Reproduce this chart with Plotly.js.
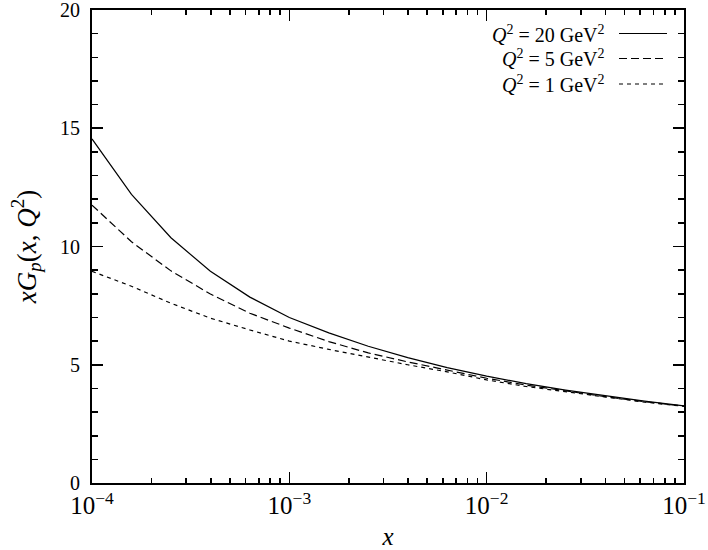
<!DOCTYPE html>
<html>
<head>
<meta charset="utf-8">
<script src="https://cdn.plot.ly/plotly-3.0.1.min.js"></script>
<style>html,body{margin:0;padding:0;background:#fff;}#chart{width:708px;height:550px;}</style>
</head>
<body>
<div id="chart"></div>
<script>
// x values (log-spaced sample points)
const xVals = [1.0e-4, 1.585e-4, 2.512e-4, 3.981e-4, 6.310e-4,
               1.0e-3, 1.585e-3, 2.512e-3, 3.981e-3, 6.310e-3,
               1.0e-2, 1.585e-2, 2.512e-2, 3.981e-2, 6.310e-2, 1.0e-1];
const gQ20 = [14.55, 12.2, 10.37, 8.95, 7.86, 7.0, 6.35, 5.78, 5.3, 4.88, 4.52, 4.2, 3.93, 3.68, 3.46, 3.26];
const gQ5  = [11.75, 10.2, 8.97, 7.99, 7.18, 6.55, 5.98, 5.5, 5.12, 4.77, 4.43, 4.14, 3.88, 3.65, 3.44, 3.25];
const gQ1  = [8.95, 8.32, 7.6, 6.97, 6.47, 6.0, 5.65, 5.32, 5.0, 4.7, 4.36, 4.08, 3.85, 3.62, 3.42, 3.24];
const yTickVals = [0, 5, 10, 15, 20];
const yTickText = ['0', '5', '10', '15', '20'];
const seriesNames = ['<i>Q</i><sup>2</sup> = 20 GeV<sup>2</sup>',
                     '<i>Q</i><sup>2</sup> = 5 GeV<sup>2</sup>',
                     '<i>Q</i><sup>2</sup> = 1 GeV<sup>2</sup>'];
const dashes = ['solid', '8px,4px', '4px,4px'];
const seriesData = [gQ20, gQ5, gQ1];

const FONT = '"Liberation Serif", "Times New Roman", serif';

const traces = seriesData.map((ys, i) => ({
  x: xVals, y: ys, type: 'scatter', mode: 'lines', name: seriesNames[i],
  line: {color: '#000', width: 1.2, dash: dashes[i]}, showlegend: false
}));

// manual legend (text right-aligned, sample line on the right)
const legendY = [33.5, 58.5, 84];
const annotations = [];
const shapes = [];
seriesNames.forEach((nm, i) => {
  const yp = 1 - (legendY[i] - 10) / 473;
  annotations.push({xref: 'paper', yref: 'paper', x: (607 - 92) / 592, y: yp,
    xanchor: 'right', yanchor: 'middle', text: nm, showarrow: false,
    font: {family: FONT, size: 20, color: '#000'}});
  shapes.push({type: 'line', xref: 'paper', yref: 'paper',
    x0: (619 - 92) / 592, x1: (667 - 92) / 592, y0: yp, y1: yp,
    line: {color: '#000', width: 1.2, dash: dashes[i]}});
});

const layout = {
  width: 708, height: 550,
  margin: {l: 92, r: 24, t: 10, b: 67},
  paper_bgcolor: '#fff', plot_bgcolor: '#fff',
  font: {family: FONT, size: 20, color: '#000'},
  showlegend: false,
  xaxis: {
    type: 'log', range: [-4, -1], dtick: 1, exponentformat: 'power',
    showgrid: false, zeroline: false,
    showline: true, linecolor: '#000', linewidth: 2, mirror: 'ticks',
    ticks: 'inside', ticklen: 11, tickwidth: 1.6, tickcolor: '#000',
    minor: {ticks: 'inside', ticklen: 5, tickwidth: 1.6, tickcolor: '#000', showgrid: false, dtick: 'D1'},
    ticklabeloverflow: 'allow',
    tickfont: {family: FONT, size: 20, color: '#000'},
    title: {text: '<i>x</i>', font: {family: FONT, size: 25, color: '#000'}, standoff: 10}
  },
  yaxis: {
    range: [0, 20], tickmode: 'array', tickvals: yTickVals, ticktext: yTickText,
    showgrid: false, zeroline: false,
    showline: true, linecolor: '#000', linewidth: 2, mirror: 'ticks',
    ticks: 'inside', ticklen: 11, tickwidth: 1.6, tickcolor: '#000',
    minor: {ticks: 'inside', ticklen: 6, tickwidth: 1.6, tickcolor: '#000', showgrid: false, dtick: 1, tick0: 0},
    ticklabelstandoff: 6, ticklabeloverflow: 'allow',
    tickfont: {family: FONT, size: 20, color: '#000'},
    title: {text: '<i>xG</i><sub><i>p</i></sub>(<i>x</i>, <i>Q</i><sup>2</sup>)',
            font: {family: FONT, size: 27, color: '#000'}, standoff: 16}
  },
  annotations: annotations,
  shapes: shapes
};

Plotly.newPlot('chart', traces, layout, {displayModeBar: false, staticPlot: true});
</script>
</body>
</html>
